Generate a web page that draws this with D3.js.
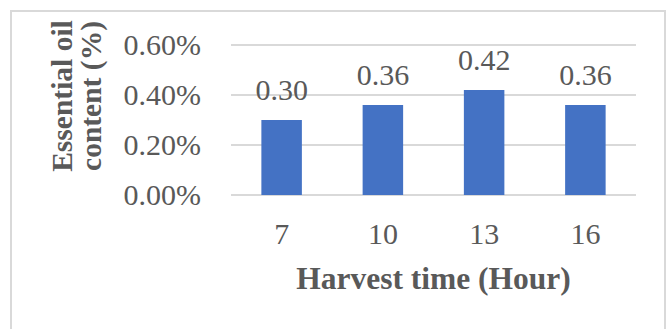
<!DOCTYPE html>
<html>
<head>
<meta charset="utf-8">
<script src="https://cdn.jsdelivr.net/npm/d3@7/dist/d3.min.js"></script>
<style>
  html, body { margin: 0; padding: 0; background: #fff; }
  svg { display: block; }
</style>
</head>
<body>
<script>
// Harvest time vs. essential oil content
const categories = ["7", "10", "13", "16"];
const values = [0.30, 0.36, 0.42, 0.36];          // percent
const valueLabels = ["0.30", "0.36", "0.42", "0.36"];
const yTicks = [0, 0.2, 0.4, 0.6];
const yTickLabels = ["0.00%", "0.20%", "0.40%", "0.60%"];
const xTitle = "Harvest time (Hour)";
const yTitleLines = ["Essential oil", "content (%)"];

const W = 667, H = 329;
const plot = { left: 231, right: 636, top: 45, bottom: 195 };
const textColor = "#595959";
const gridColor = "#d9d9d9";
const barColor = "#4472c4";
const serif = "'Liberation Serif', 'Times New Roman', serif";

const svg = d3.select("body").append("svg")
  .attr("width", W).attr("height", H);

// chart frame
svg.append("rect")
  .attr("x", 11).attr("y", 11)
  .attr("width", 654).attr("height", 340)
  .attr("fill", "#fff")
  .attr("stroke", gridColor).attr("stroke-width", 2);

const x = d3.scaleBand()
  .domain(categories)
  .range([plot.left, plot.right])
  .paddingInner(0.6).paddingOuter(0.3);

const y = d3.scaleLinear()
  .domain([0, 0.6])
  .range([plot.bottom, plot.top]);

// gridlines
svg.append("g")
  .selectAll("line")
  .data(yTicks)
  .join("line")
  .attr("x1", plot.left).attr("x2", plot.right)
  .attr("y1", d => y(d)).attr("y2", d => y(d))
  .attr("stroke", gridColor).attr("stroke-width", 2);

// y axis labels
const yAxis = d3.axisLeft(y)
  .tickValues(yTicks)
  .tickFormat((d, i) => yTickLabels[i])
  .tickSize(0).tickPadding(30);
const yg = svg.append("g")
  .attr("transform", `translate(${plot.left},0)`)
  .call(yAxis);
yg.select(".domain").remove();
yg.selectAll("text")
  .attr("font-family", serif).attr("font-size", 30)
  .attr("fill", textColor);

// x axis labels
const xAxis = d3.axisBottom(x).tickSize(0).tickPadding(28);
const xg = svg.append("g")
  .attr("transform", `translate(0,${plot.bottom})`)
  .call(xAxis);
xg.select(".domain").remove();
xg.selectAll("text")
  .attr("font-family", serif).attr("font-size", 30)
  .attr("fill", textColor);

// bars
svg.append("g")
  .selectAll("rect")
  .data(values)
  .join("rect")
  .attr("x", (d, i) => x(categories[i]))
  .attr("width", x.bandwidth())
  .attr("y", d => y(d))
  .attr("height", d => y(0) - y(d))
  .attr("fill", barColor);

// value labels
svg.append("g")
  .selectAll("text")
  .data(values)
  .join("text")
  .attr("x", (d, i) => x(categories[i]) + x.bandwidth() / 2)
  .attr("y", d => y(d) - 20)
  .attr("text-anchor", "middle")
  .attr("font-family", serif).attr("font-size", 30)
  .attr("fill", textColor)
  .text((d, i) => valueLabels[i]);

// x axis title
svg.append("text")
  .attr("x", (plot.left + plot.right) / 2)
  .attr("y", 289)
  .attr("text-anchor", "middle")
  .attr("font-family", serif).attr("font-size", 31.5).attr("font-weight", "bold")
  .attr("fill", textColor)
  .text(xTitle);

// y axis title (two lines)
const yt = svg.append("text")
  .attr("transform", "translate(0,96) rotate(-90)")
  .attr("text-anchor", "middle")
  .attr("font-family", serif).attr("font-size", 29.5).attr("font-weight", "bold")
  .attr("fill", textColor);
yTitleLines.forEach((line, i) => {
  yt.append("tspan")
    .attr("x", 0)
    .attr("y", 72 + i * 29)
    .text(line);
});
</script>
</body>
</html>
